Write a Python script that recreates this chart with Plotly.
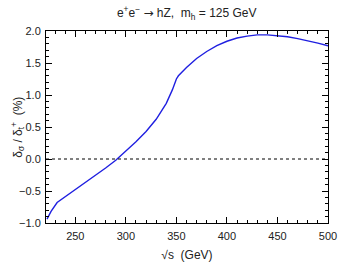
import plotly.graph_objects as go

# sqrt(s) in GeV and the ratio in percent
sqrt_s = [222, 226, 232, 240, 250, 260, 270, 280, 290, 300, 310, 320, 330,
          340, 346, 350, 352, 360, 370, 380, 390, 400, 410, 420, 430, 440,
          450, 460, 470, 480, 490, 500]
ratio = [-0.94, -0.82, -0.68, -0.59, -0.48, -0.37, -0.26, -0.14, -0.02,
         0.12, 0.27, 0.43, 0.62, 0.87, 1.08, 1.25, 1.30, 1.43, 1.57, 1.68,
         1.77, 1.84, 1.89, 1.92, 1.94, 1.94, 1.93, 1.91, 1.88, 1.85, 1.81, 1.77]

fig = go.Figure()
fig.add_trace(go.Scatter(x=sqrt_s, y=ratio, mode="lines",
                         line=dict(color="#1f1fe0", width=1.4)))

# dotted zero line
fig.add_hline(y=0, line=dict(color="black", width=1, dash="dot"))

axis_common = dict(
    showgrid=False, zeroline=False, showline=True, linecolor="black",
    linewidth=1, mirror="ticks", ticks="inside", ticklen=6,
    tickcolor="black", tickfont=dict(size=11, color="#222"),
    automargin=False,
)

fig.update_xaxes(range=[221, 500], tick0=250, dtick=50, ticklabelstandoff=3,
                 minor=dict(dtick=10, ticks="inside", ticklen=3,
                            tickcolor="black"),
                 title=dict(text="√s  (GeV)", font=dict(size=12, color="#222")),
                 **axis_common)
fig.update_yaxes(range=[-1.0, 2.0], dtick=0.5, tickformat=".1f",
                 ticklabelstandoff=2,
                 minor=dict(dtick=0.1, ticks="inside", ticklen=3,
                            tickcolor="black"),
                 **axis_common)

# y-axis title as a rotated annotation so it sits where the original has it
fig.add_annotation(text="δ<sub>σ</sub> / δ<sub>t</sub><sup>+</sup>  (%)",
                   xref="paper", yref="paper", x=-0.1, y=0.5,
                   xanchor="center", yanchor="middle", textangle=-90,
                   showarrow=False, font=dict(size=12, color="#222"))

arrow = '<span style="font-family:DejaVu Sans">→</span>'
fig.update_layout(
    width=349, height=262,
    margin=dict(l=46, r=21, t=31, b=39),
    plot_bgcolor="white", paper_bgcolor="white",
    showlegend=False,
    font=dict(family="Liberation Sans, Arial, sans-serif"),
    title=dict(text=f"e<sup>+</sup>e<sup>−</sup> {arrow} hZ,  m<sub>h</sub> = 125 GeV",
               x=0.535, xanchor="center", y=0.95, yanchor="middle",
               font=dict(size=12, color="#222")),
)

# drop the page's default body margin so the figure sits at the corner
fig.write_html("out.html", config={"displayModeBar": False},
               post_script="document.body.style.margin='0';")
